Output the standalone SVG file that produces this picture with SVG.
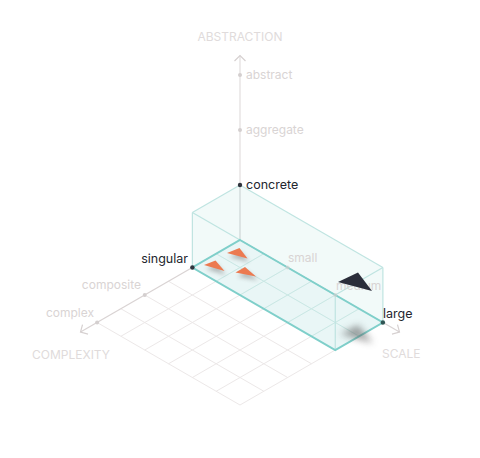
<svg xmlns="http://www.w3.org/2000/svg" width="480" height="458" viewBox="0 0 480 458">
<style>
.grid{stroke:#ece8e8;stroke-width:1;fill:none}
.tgrid{stroke:#c9e8e5;stroke-width:1;fill:none}
.axis{stroke:#d9d3d3;stroke-width:1.2;fill:none}
.edge{stroke:#bfe4e1;stroke-width:1.2;fill:none}
.lt{font-family:Inter,"Noto Sans",sans-serif;font-size:12px;fill:#d9d4d4}
.dk{font-family:Inter,"Noto Sans",sans-serif;font-size:12.5px;fill:#23262e}
.ttl{font-family:Inter,"Noto Sans",sans-serif;font-size:12px;fill:#e0dbdb}
.ldot{fill:#d4cfcf}
.ddot{fill:#30343d}
.orange{fill:#ec7a50}
.shadow{fill:#6a6a6a;opacity:0.45;filter:url(#blur)}
</style>
<defs>
<marker id="arr" viewBox="-7 -7 9 14" markerWidth="9" markerHeight="14" refX="0" refY="0" orient="auto" markerUnits="userSpaceOnUse">
<path d="M-5.5,-5.5 L0,0 L-5.5,5.5" fill="none" stroke="#d6d0d0" stroke-width="1.2"/>
</marker>
<filter id="blur" x="-50%" y="-50%" width="200%" height="200%"><feGaussianBlur stdDeviation="2"/></filter>
<filter id="blur2" x="-50%" y="-50%" width="200%" height="200%"><feGaussianBlur stdDeviation="3.5"/></filter>
</defs>

<g id="floor-grid">
<line class="grid" x1="216.19" y1="253.75" x2="359.07" y2="336.25"/>
<line class="grid" x1="192.37" y1="267.5" x2="335.26" y2="350"/>
<line class="grid" x1="168.56" y1="281.25" x2="311.44" y2="363.75"/>
<line class="grid" x1="144.74" y1="295" x2="287.63" y2="377.5"/>
<line class="grid" x1="120.93" y1="308.75" x2="263.81" y2="391.25"/>
<line class="grid" x1="97.11" y1="322.5" x2="240" y2="405"/>
<line class="grid" x1="263.81" y1="253.75" x2="120.93" y2="336.25"/>
<line class="grid" x1="287.63" y1="267.5" x2="144.74" y2="350"/>
<line class="grid" x1="311.44" y1="281.25" x2="168.56" y2="363.75"/>
<line class="grid" x1="335.26" y1="295" x2="192.37" y2="377.5"/>
<line class="grid" x1="359.07" y1="308.75" x2="216.19" y2="391.25"/>
<line class="grid" x1="382.89" y1="322.5" x2="240" y2="405"/>
</g>

<g id="connectors">
<line id="axis-complexity" class="axis" x1="240" y1="240" x2="80.5" y2="332.1" marker-end="url(#arr)"/>
<line id="axis-scale" class="axis" x1="240" y1="240" x2="399.5" y2="332.1" marker-end="url(#arr)"/>
<line id="axis-abstraction" class="axis" x1="240" y1="240" x2="240" y2="55.5" marker-end="url(#arr)" style="stroke:#e2dede"/>
</g>

<g id="box">
<polygon points="192.37,212.5 240,185 382.89,267.5 382.89,322.5 335.26,350 192.37,267.5" fill="#e6f5f4" fill-opacity="0.5"/>
<polygon points="240,240 382.89,322.5 335.26,350 192.37,267.5" fill="#e3f4f3" fill-opacity="0.6"/>
<line class="tgrid" x1="216.19" y1="253.75" x2="359.07" y2="336.25"/>
<line class="tgrid" x1="263.81" y1="253.75" x2="216.19" y2="281.25"/>
<line class="tgrid" x1="287.63" y1="267.5" x2="240" y2="295"/>
<line class="tgrid" x1="311.44" y1="281.25" x2="263.81" y2="308.75"/>
<line class="tgrid" x1="335.26" y1="295" x2="287.63" y2="322.5"/>
<line class="tgrid" x1="359.07" y1="308.75" x2="311.44" y2="336.25"/>
<line class="edge" x1="192.37" y1="212.5" x2="240" y2="185"/>
<line class="edge" x1="240" y1="185" x2="382.89" y2="267.5"/>
<line class="edge" x1="382.89" y1="267.5" x2="335.26" y2="295"/>
<line class="edge" x1="192.37" y1="212.5" x2="335.26" y2="295"/>
<line class="edge" x1="192.37" y1="212.5" x2="192.37" y2="267.5"/>
<line class="edge" x1="382.89" y1="267.5" x2="382.89" y2="322.5"/>
<line class="edge" x1="335.26" y1="295" x2="335.26" y2="350"/>
<line x1="240" y1="185" x2="240" y2="240" stroke="#d3dcdc" stroke-width="1.2"/>
<polygon points="240,240 382.89,322.5 335.26,350 192.37,267.5" fill="none" stroke="#7fcfca" stroke-width="2"/>
</g>

<g id="axis-labels">
<text class="ttl" x="240" y="41" text-anchor="middle">ABSTRACTION</text>
<text class="ttl" x="71" y="359" text-anchor="middle">COMPLEXITY</text>
<text class="ttl" x="382" y="358">SCALE</text>
</g>

<g id="tick-abstract"><circle class="ldot" cx="240" cy="75" r="2"/><text class="lt" x="246" y="79">abstract</text></g>
<g id="tick-aggregate"><circle class="ldot" cx="240" cy="130" r="2"/><text class="lt" x="246" y="134">aggregate</text></g>
<g id="tick-concrete"><circle class="ddot" cx="240" cy="185" r="2.2"/><text class="dk" x="246" y="189">concrete</text></g>
<g id="tick-singular"><circle class="ddot" cx="192.37" cy="267.5" r="2.2"/><text class="dk" x="188" y="263" text-anchor="end">singular</text></g>
<g id="tick-composite"><circle class="ldot" cx="144.74" cy="295" r="2"/><text class="lt" x="141" y="289" text-anchor="end">composite</text></g>
<g id="tick-complex"><circle class="ldot" cx="97.11" cy="322.5" r="2"/><text class="lt" x="94" y="317" text-anchor="end">complex</text></g>
<g id="tick-small"><circle class="ldot" cx="287.63" cy="267.5" r="2" fill-opacity="0.6"/><text class="lt" x="288" y="262">small</text></g>
<g id="tick-medium"><circle class="ldot" cx="335.26" cy="295" r="2" fill-opacity="0.6"/><text class="lt" x="336" y="290">medium</text></g>
<g id="tick-large"><circle cx="382.89" cy="322.5" r="2.2" fill="#2f5553"/><text class="dk" x="383" y="318">large</text></g>

<g id="marker-orange-1">
<polygon class="shadow" points="229,257 241,252 249,262"/>
<polygon class="orange" points="227,253 239.5,248 247.5,258.5"/>
</g>
<g id="marker-orange-2">
<polygon class="shadow" points="206,269 217,264.5 226,275"/>
<polygon class="orange" points="204,265 215.5,260.5 224.5,271"/>
</g>
<g id="marker-orange-3">
<polygon class="shadow" points="237.5,276.5 247,271 258,280.5"/>
<polygon class="orange" points="235.5,272.5 245,267 256,276.5"/>
</g>
<g id="marker-dark">
<polygon points="340,334 358,325 373,343" fill="#555" opacity="0.55" filter="url(#blur2)"/>
<polygon points="338,282 358,272.5 372,291" fill="#2b2d3a"/>
</g>
</svg>
